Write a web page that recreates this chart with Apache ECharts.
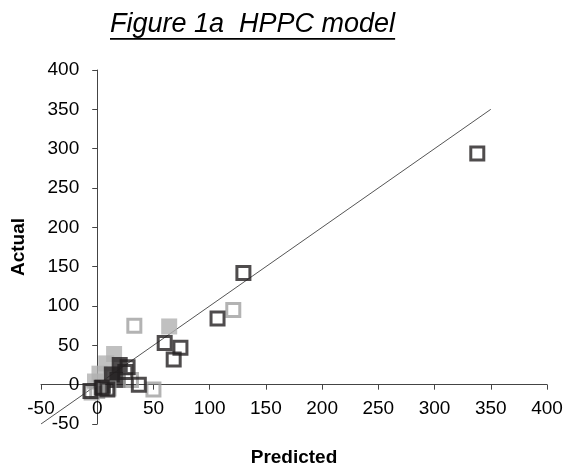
<!DOCTYPE html>
<html>
<head>
<meta charset="utf-8">
<script src="https://cdn.jsdelivr.net/npm/echarts@6/dist/echarts.min.js"></script>
<style>html,body{margin:0;padding:0;background:#fff}#c{width:566px;height:470px}</style>
</head>
<body>
<div id="c"></div>
<script>
const titleText = 'Figure 1a  HPPC model';
const xName = 'Predicted';
const yName = 'Actual';
const axisMin = -50, axisMax = 400, axisStep = 50;
const grayFilled = [[64,74],[15,39],[8,27],[2,14],[-2,4]];
const blackFilled = [[20,25],[13,13],[18,6],[5,-4]];
const grayHollow = [[121,95],[33,75],[50,-6],[30,6],[0,-8],[-5,-10],[10,-5]];
const blackHollow = [[130,142],[107,84],[60,53],[74,47],[68,32],[338,294],[27,22],[25,16],[37,0],[4,-4],[9,-6],[-6,-8]];
const refLine = [[-50,-50],[350,350]];

const FF = '"Liberation Sans", Arial, sans-serif';
const titleSize = 27;
const cv = document.createElement('canvas').getContext('2d');
cv.font = 'italic ' + titleSize + 'px ' + FF;
const tw = cv.measureText(titleText).width;
const tLeft = 110, tTop = 11;

const G = {left:41, right:19, top:70, bottom:46, W:566, H:470};
const gw = G.W - G.left - G.right, gh = G.H - G.top - G.bottom;
// shift axes so they cross at zero (labels follow the axis lines)
const xOff = -gh * (0 - axisMin) / (axisMax - axisMin);
const yOff = -gw * (0 - axisMin) / (axisMax - axisMin);

const chart = echarts.init(document.getElementById('c'), null, {renderer:'canvas'});
const axisCommon = {
  type:'value', min:axisMin, max:axisMax, interval:axisStep,
  splitLine:{show:false},
  axisLine:{onZero:false, lineStyle:{color:'#444', width:1}},
  axisTick:{show:true, length:5, lineStyle:{color:'#444'}},
  axisLabel:{color:'#000', fontSize:19, fontFamily:FF},
  nameLocation:'middle',
  nameTextStyle:{color:'#000', fontSize:19, fontWeight:'bold', fontFamily:FF}
};
const hollow = (c)=>({color:'rgba(0,0,0,0)', borderColor:c, borderWidth:3});
chart.setOption({
  animation:false,
  title:{text:titleText, left:tLeft, top:tTop, padding:0,
    textStyle:{fontStyle:'italic', fontWeight:'normal', fontSize:titleSize, color:'#000', fontFamily:FF}},
  graphic:[{type:'rect', shape:{x:tLeft, y:38, width:tw, height:1.8}, style:{fill:'#000'}}],
  grid:{left:G.left, right:G.right, top:G.top, bottom:G.bottom, containLabel:false, outerBoundsMode:'none'},
  xAxis:Object.assign({}, axisCommon, {name:xName, nameGap:64, offset:xOff,
    axisLabel:Object.assign({}, axisCommon.axisLabel, {margin:15})}),
  yAxis:Object.assign({}, axisCommon, {name:yName, nameGap:69, offset:yOff,
    axisLabel:Object.assign({}, axisCommon.axisLabel, {margin:18})}),
  series:[
    {type:'line', data:refLine, symbol:'none', lineStyle:{color:'#555', width:1}, z:1},
    {type:'scatter', data:grayFilled, symbol:'rect', symbolSize:16, itemStyle:{color:'#b0b0b0'}, z:2},
    {type:'scatter', data:blackFilled, symbol:'rect', symbolSize:16, itemStyle:{color:'#231f20'}, z:3},
    {type:'scatter', data:grayHollow, symbol:'rect', symbolSize:13, itemStyle:hollow('#a0a0a0'), z:4},
    {type:'scatter', data:blackHollow, symbol:'rect', symbolSize:13, itemStyle:hollow('#231f20'), z:5}
  ]
});
</script>
</body>
</html>
